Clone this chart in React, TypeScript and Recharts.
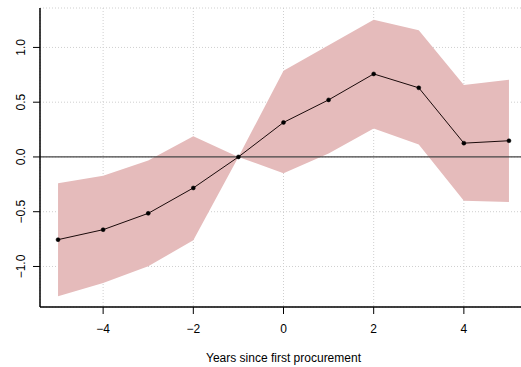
import React from 'react';
import { ComposedChart, Area, Line, XAxis, YAxis, CartesianGrid, ReferenceLine } from 'recharts';

const years = [-5, -4, -3, -2, -1, 0, 1, 2, 3, 4, 5];
const estimate = [-0.755, -0.664, -0.515, -0.283, 0, 0.315, 0.521, 0.758, 0.631, 0.126, 0.148];
const upper = [-0.239, -0.171, -0.032, 0.19, 0, 0.786, 1.02, 1.253, 1.156, 0.658, 0.706];
const lower = [-1.272, -1.15, -0.998, -0.761, 0, -0.148, 0.032, 0.26, 0.114, -0.4, -0.412];
const xTicks = [-4, -2, 0, 2, 4];
const yTicks = [-1.0, -0.5, 0.0, 0.5, 1.0];

const data = years.map((x, i) => ({ x, est: estimate[i], band: [lower[i], upper[i]] }));

const FONT = '"Liberation Sans", Arial, Helvetica, sans-serif';
const fmt = (v: number, d: number) => (v < 0 ? '\u2212' : '') + Math.abs(v).toFixed(d);

const XTick = (props: any) => {
  const { x, y, payload } = props;
  return (
    <text x={x} y={y + 19} textAnchor="middle" fontFamily={FONT} fontSize={12} fill="#000">
      {fmt(payload.value, 0)}
    </text>
  );
};

const YTick = (props: any) => {
  const { y, payload } = props;
  const tx = 25;
  return (
    <text x={tx} y={y} transform={`rotate(-90, ${tx}, ${y})`} textAnchor="middle" fontFamily={FONT} fontSize={12} fill="#000">
      {fmt(payload.value, 1)}
    </text>
  );
};

const XLabel = (props: any) => {
  const vb = props.viewBox || {};
  return (
    <text x={vb.x + vb.width / 2} y={vb.y + 55} textAnchor="middle" fontFamily={FONT} fontSize={12} fill="#000">
      Years since first procurement
    </text>
  );
};

export default function App() {
  return (
    <div style={{ position: 'absolute', left: 0, top: 0, width: 521, height: 367, overflow: 'hidden', background: '#fff' }}>
      <ComposedChart width={540} height={367} data={data} margin={{ top: 8, right: 13, bottom: 0, left: 0 }}>
        <CartesianGrid stroke="#cfcfcf" strokeDasharray="1 2" />
        <XAxis
          dataKey="x"
          type="number"
          domain={[-5.4, 5.4]}
          ticks={xTicks}
          allowDataOverflow
          height={60}
          tickSize={7}
          tickMargin={0}
          tick={<XTick />}
          axisLine={{ stroke: '#000', strokeWidth: 1.5 }}
          tickLine={{ stroke: '#000' }}
          label={<XLabel />}
        />
        <XAxis xAxisId="top" orientation="top" dataKey="x" type="number" domain={[-5.4, 5.4]} height={0} tick={false} tickLine={false} axisLine={{ stroke: '#808080', strokeWidth: 2.5 }} />
        <YAxis
          type="number"
          domain={[-1.37, 1.36]}
          ticks={yTicks}
          allowDataOverflow
          width={40}
          tickSize={7}
          tickMargin={0}
          tick={<YTick />}
          axisLine={{ stroke: '#000', strokeWidth: 1.5 }}
          tickLine={{ stroke: '#000' }}
        />
        <Area dataKey="band" type="linear" stroke="none" fill="#e5bbbb" fillOpacity={1} isAnimationActive={false} activeDot={false} />
        <ReferenceLine y={0} stroke="#444" strokeWidth={1.2} />
        <Line
          dataKey="est"
          type="linear"
          stroke="#1a0a0a"
          strokeWidth={1}
          dot={{ r: 2, fill: '#000', stroke: '#000', strokeWidth: 0.5 }}
          activeDot={false}
          isAnimationActive={false}
        />
      </ComposedChart>
    </div>
  );
}
